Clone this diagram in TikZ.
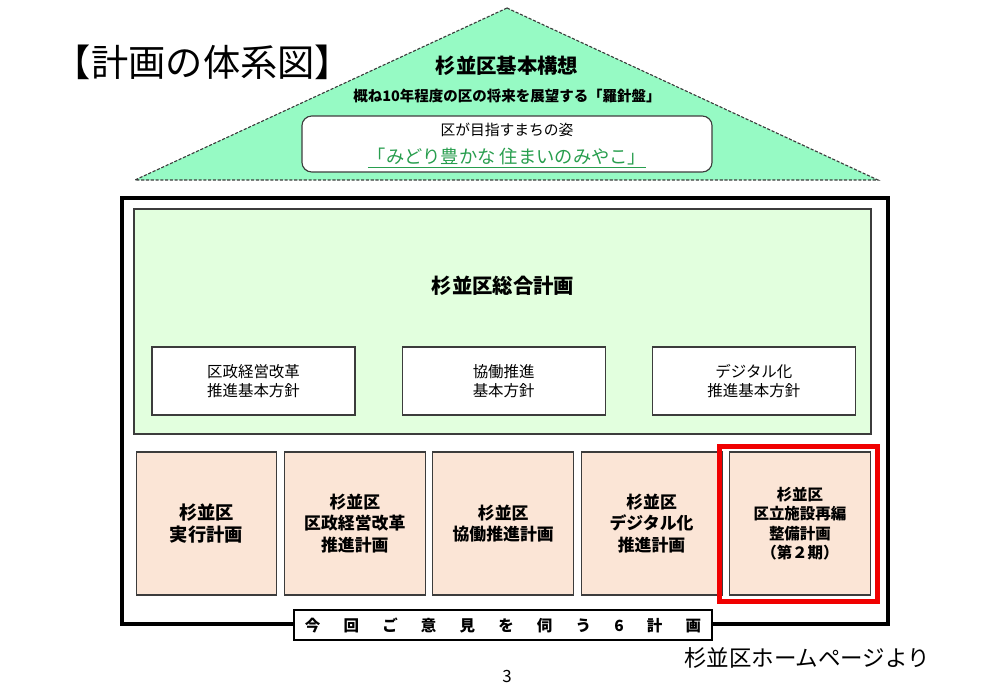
\documentclass[tikz,border=0pt]{standalone}
\usepackage{fontspec}
\setmainfont{Noto Sans CJK JP}
\usetikzlibrary{positioning}

\definecolor{roofgreen}{RGB}{150,250,196}
\definecolor{plangreen}{RGB}{226,255,222}
\definecolor{peach}{RGB}{251,229,214}
\definecolor{mottogreen}{RGB}{40,158,78}
\definecolor{edgegray}{RGB}{60,60,60}
\definecolor{markred}{RGB}{240,0,0}

\newcommand{\fsz}[1]{\fontsize{#1}{1.25\dimexpr#1pt\relax}\selectfont}
\newcommand{\kgap}{\hspace{0.58cm}}

\begin{document}
\begin{tikzpicture}[
            x=0.025cm, y=-0.025cm,
            policy/.style={rectangle, draw=edgegray, thick, fill=white,
            minimum width=5.075cm, minimum height=1.7cm,
            font=\fsz{11}, align=center},
            sixplan/.style={rectangle, draw=edgegray, thick, fill=peach,
            minimum width=3.52cm, minimum height=3.575cm,
            font=\fsz{12}\bfseries, align=center},
            heading/.style={font=\fsz{14.5}\bfseries}
        ]
            \useasboundingbox (0,0) rectangle (1008,698);

% ----- Dach: Grundkonzept -----
            \draw[edgegray, fill=roofgreen, thick, dash pattern=on 2.2pt off 1.2pt]
                (507,8) -- (878,180) -- (135,180) -- cycle;
            \node[font=\fsz{26.5}] (title) at (203,62) {【計画の体系図】};
            \node[heading] (concept) at (507,66) {杉並区基本構想};
            \node[font=\fsz{10.3}\bfseries] (compass) at (507,96)
                {概ね10年程度の区の将来を展望する「羅針盤」};
            \node[rectangle, draw=edgegray, thick, fill=white, rounded corners=7pt,
                minimum width=10.25cm, minimum height=1.4cm] (vision) at (507,144) {};
            \node[font=\fsz{10.5}] (visionlbl) at (507,130) {区が目指すまちの姿};
            \node[font=\fsz{13}, text=mottogreen] (motto) at (507,158)
                {\underline{「みどり豊かな 住まいのみやこ」}};

% ----- Rahmen und Gesamtplan -----
            \draw[line width=2.2pt] (122,198) rectangle (888,624);
            \draw[edgegray, thick, fill=plangreen] (134,209) rectangle (871,434);
            \node[heading] (master) at (503,286) {杉並区総合計画};

            \node[policy] (pol1) at (253.5,381) {区政経営改革\\推進基本方針};
            \node[policy, right=1.15cm of pol1] (pol2) {協働推進\\基本方針};
            \node[policy, right=1.15cm of pol2] (pol3) {デジタル化\\推進基本方針};

% ----- sechs Plaene -----
            \node[sixplan, font=\fsz{13}\bfseries] (p1) at (206.5,523.5) {杉並区\\実行計画};
            \node[sixplan, right=0.16cm of p1] (p2) {杉並区\\区政経営改革\\推進計画};
            \node[sixplan, right=0.16cm of p2] (p3) {杉並区\\協働推進計画};
            \node[sixplan, right=0.16cm of p3] (p4) {杉並区\\デジタル化\\推進計画};
            \node[sixplan, right=0.16cm of p4, font=\fsz{11}\bfseries] (p5)
                {杉並区\\区立施設再編\\整備計画\\（第２期）};

% Markierung
            \draw[markred, line width=3.6pt] (719.5,446.5) rectangle (877.5,601.5);

            \node[rectangle, draw=black, thick, fill=white, minimum width=10.45cm,
                minimum height=0.75cm, font=\fsz{11}\bfseries] (ask) at (503,625)
                {今\kgap 回\kgap ご\kgap 意\kgap 見\kgap を\kgap 伺\kgap う\kgap 6\kgap 計\kgap 画};

% ----- Quelle -----
            \node[font=\fsz{16}] (source) at (807,658) {杉並区ホームページより};
            \node[font=\fsz{12}] (page) at (507,676) {3};

        \end{tikzpicture}
\end{document}
